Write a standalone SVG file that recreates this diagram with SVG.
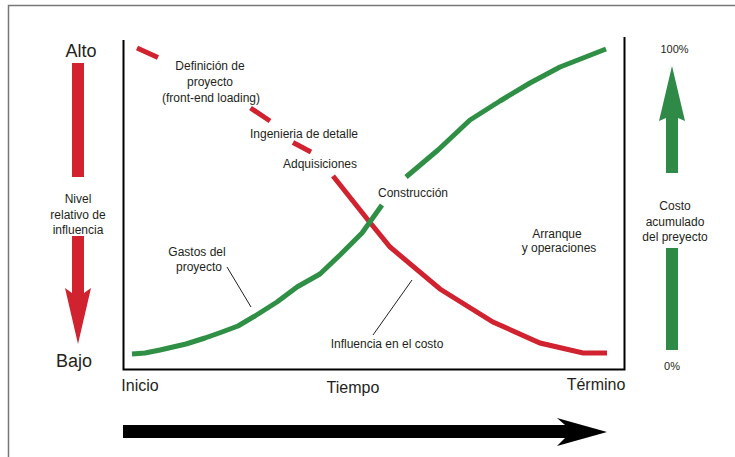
<svg xmlns="http://www.w3.org/2000/svg" width="735" height="457" viewBox="0 0 735 457">
<style>
.t{font-family:"Liberation Sans",Arial,sans-serif;fill:#231f20}
.s12{font-size:12px}
.s11{font-size:11px}
.s16{font-size:16px}
.s18{font-size:18px}
.red{fill:none;stroke:#d1222f;stroke-width:5}
.grn{fill:none;stroke:#2e8f45;stroke-width:5;stroke-linejoin:round}
.lead{fill:none;stroke:#231f20;stroke-width:1}
.axis{fill:none;stroke:#000;stroke-width:2}
</style>
<rect width="735" height="457" fill="#fff"/>
<g id="frame">
<path d="M8.5,457 V5.5 H735" fill="none" stroke="#777" stroke-width="1.5"/>
</g>
<g id="plot-box">
<path class="axis" d="M123.5,40 V369.5 H624.5 V37"/>
</g>
<g id="left-scale">
<text class="t s18" x="81" y="57" text-anchor="middle">Alto</text>
<rect x="72" y="63" width="12" height="114" fill="#d1222f"/>
<text class="t s12" x="78" y="203" text-anchor="middle">Nivel</text>
<text class="t s12" x="78" y="219" text-anchor="middle">relativo de</text>
<text class="t s12" x="78" y="234" text-anchor="middle">influencia</text>
<path d="M72,236 H84 V293 L91,288 L78,344 L65,288 L72,293 Z" fill="#d1222f"/>
<text class="t s18" x="74" y="367" text-anchor="middle">Bajo</text>
</g>
<g id="right-scale">
<text class="t s11" x="674.5" y="53" text-anchor="middle">100%</text>
<path d="M666,173 V118 L659,121 L672,66 L685,121 L678,118 V173 Z" fill="#2f8a47"/>
<text class="t s12" x="675" y="210" text-anchor="middle">Costo</text>
<text class="t s12" x="675" y="226" text-anchor="middle">acumulado</text>
<text class="t s12" x="675" y="241" text-anchor="middle">del preyecto</text>
<rect x="666" y="248" width="12" height="102" fill="#2f8a47"/>
<text class="t s11" x="672" y="370" text-anchor="middle">0%</text>
</g>
<g id="connectors">
<g id="influence-curve">
<path class="red" d="M137,48 L158,57.5"/>
<path class="red" d="M250.5,108 L270,121"/>
<path class="red" d="M293,142.5 L311,152"/>
<path class="red" d="M333,176 L368,220 L390,247 L440,289 L493,322 L540,343 L583,353 L607,353"/>
</g>
<g id="cost-curve">
<path class="grn" d="M132,354 L145,353 L160,350 L186,344 L205,338 L222,332 L238,326 L255,316 L277,302 L297,287 L320,274 L340,255 L362,233 L382,205"/>
<path class="grn" d="M406,177 L438,150 L470,120 L500,101 L530,83 L560,67 L606,49"/>
</g>
<path class="lead" d="M227,267 L251,307"/>
<path class="lead" d="M373,335 L412,280"/>
</g>
<g id="label-definicion">
<text class="t s12" x="210" y="70" text-anchor="middle">Definición de</text>
<text class="t s12" x="210" y="86" text-anchor="middle">proyecto</text>
<text class="t s12" x="211" y="102" text-anchor="middle">(front-end loading)</text>
</g>
<g id="label-ingenieria"><text class="t s12" x="304" y="138" text-anchor="middle">Ingenieria de detalle</text></g>
<g id="label-adquisiciones"><text class="t s12" x="320" y="168" text-anchor="middle">Adquisiciones</text></g>
<g id="label-construccion"><text class="t s12" x="413" y="197" text-anchor="middle">Construcción</text></g>
<g id="label-arranque">
<text class="t s12" x="557" y="238" text-anchor="middle">Arranque</text>
<text class="t s12" x="559" y="252" text-anchor="middle">y operaciones</text>
</g>
<g id="label-gastos">
<text class="t s12" x="197" y="256" text-anchor="middle">Gastos del</text>
<text class="t s12" x="199" y="271" text-anchor="middle">proyecto</text>
</g>
<g id="label-influencia"><text class="t s12" x="387" y="348" text-anchor="middle">Influencia en el costo</text></g>
<g id="time-axis">
<text class="t s16" x="140" y="391" text-anchor="middle">Inicio</text>
<text class="t s16" x="353" y="393" text-anchor="middle">Tiempo</text>
<text class="t s16" x="596" y="390" text-anchor="middle">Término</text>
<path d="M123,425 H565 L557,418 L607,432 L557,446 L565,438 H123 Z" fill="#000"/>
</g>
</svg>
